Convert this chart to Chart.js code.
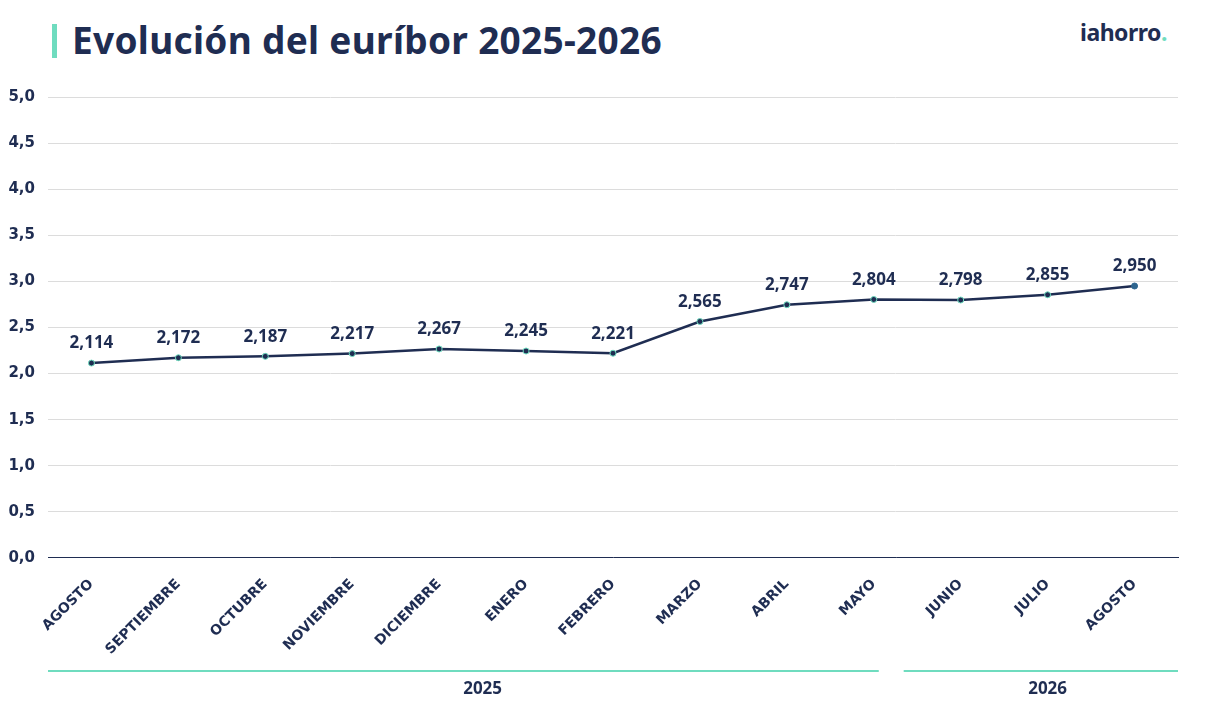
<!DOCTYPE html>
<html lang="es">
<head>
<meta charset="utf-8">
<script src="https://cdn.jsdelivr.net/npm/chart.js@4/dist/chart.umd.min.js"></script>
<style>
  html, body { margin: 0; padding: 0; background: #fff; }
  body { width: 1209px; height: 720px; position: relative; overflow: hidden; font-family: "Noto Sans", sans-serif; }
  #bar { position: absolute; left: 52px; top: 24px; width: 5px; height: 34px; background: #6fdcbf; }
  #title { position: absolute; left: 72px; top: 14px; margin: 0; font-size: 37px; font-weight: 700; color: #1f2d52; letter-spacing: 0.3px; }
  #logo { position: absolute; left: 1080px; top: 16px; font-size: 23px; font-weight: 700; color: #1f2d52; letter-spacing: -0.5px; }
  #logo span { color: #6fdcbf; }
  #wrap { position: absolute; left: 0; top: 0; width: 1209px; height: 720px; }
</style>
</head>
<body>
<div id="bar"></div>
<h1 id="title">Evolución del euríbor 2025-2026</h1>
<div id="logo">iahorro<span>.</span></div>
<div id="wrap"><canvas id="grafico"></canvas></div>
<script>
const meses = ['AGOSTO', 'SEPTIEMBRE', 'OCTUBRE', 'NOVIEMBRE', 'DICIEMBRE', 'ENERO', 'FEBRERO', 'MARZO', 'ABRIL', 'MAYO', 'JUNIO', 'JULIO', 'AGOSTO'];
const euribor = [2.114, 2.172, 2.187, 2.217, 2.267, 2.245, 2.221, 2.565, 2.747, 2.804, 2.798, 2.855, 2.950];
const anios = ['2025', '2026'];
const anioDesde = [0, 10];
const anioHasta = [9, 12];

const azul = '#1f2d52';
const verde = '#6fdcbf';
const fuente = '"Noto Sans", sans-serif';
const fuenteEjes = '"DejaVu Sans", sans-serif';

const coma = (v, d) => v.toFixed(d).replace('.', ',');

// etiquetas encima de cada punto
const etiquetas = {
  id: 'etiquetas',
  afterDatasetsDraw(chart) {
    const ctx = chart.ctx;
    const meta = chart.getDatasetMeta(0);
    ctx.save();
    ctx.font = 'bold 17px ' + fuente;
    ctx.fillStyle = azul;
    ctx.textAlign = 'center';
    ctx.textBaseline = 'bottom';
    meta.data.forEach((p, i) => {
      ctx.fillText(coma(euribor[i], 3), p.x, p.y - 11);
    });
    ctx.restore();
  }
};

// franjas de años debajo del eje
const franjas = {
  id: 'franjas',
  afterDraw(chart) {
    const ctx = chart.ctx;
    const x = chart.scales.x;
    const y0 = 671;
    ctx.save();
    ctx.strokeStyle = verde;
    ctx.lineWidth = 2;
    ctx.font = 'bold 17px ' + fuente;
    ctx.fillStyle = azul;
    ctx.textAlign = 'center';
    ctx.textBaseline = 'middle';
    anios.forEach((a, i) => {
      const ini = i === 0 ? x.left : x.getPixelForValue(anioDesde[i]) - 57;
      const fin = i === anios.length - 1 ? x.right : x.getPixelForValue(anioHasta[i]) + 5;
      ctx.beginPath();
      ctx.moveTo(ini, y0);
      ctx.lineTo(fin, y0);
      ctx.stroke();
      const centro = (x.getPixelForValue(anioDesde[i]) + x.getPixelForValue(anioHasta[i])) / 2;
      ctx.fillText(a, centro, 689);
    });
    ctx.restore();
  }
};

const colorPuntos = euribor.map((v, i) => i === euribor.length - 1 ? '#2f6690' : azul);
const bordePuntos = euribor.map((v, i) => i === euribor.length - 1 ? '#2f6690' : verde);

new Chart(document.getElementById('grafico'), {
  type: 'line',
  data: {
    labels: meses,
    datasets: [{
      label: 'Euríbor',
      data: euribor,
      borderColor: azul,
      borderWidth: 2.5,
      tension: 0,
      fill: false,
      pointRadius: 3,
      pointBorderWidth: 1,
      pointBackgroundColor: colorPuntos,
      pointBorderColor: bordePuntos
    }]
  },
  options: {
    responsive: true,
    maintainAspectRatio: false,
    animation: false,
    layout: { padding: { top: 97, left: 8, right: 31, bottom: 52 } },
    plugins: {
      legend: { display: false },
      tooltip: { enabled: false }
    },
    scales: {
      x: {
        offset: true,
        grid: { display: false },
        border: { display: true, color: azul, width: 1 },
        ticks: {
          color: azul,
          font: { family: fuenteEjes, weight: 'bold', size: 14 },
          maxRotation: 45,
          minRotation: 45,
          padding: 10
        }
      },
      y: {
        min: 0,
        max: 5,
        afterFit: (s) => { s.width = 40; },
        grid: { color: '#dcdcdc', lineWidth: 1, drawTicks: false },
        border: { display: false },
        ticks: {
          stepSize: 0.5,
          color: azul,
          padding: 13,
          font: { family: fuenteEjes, weight: 'bold', size: 15 },
          callback: (v) => coma(v, 1)
        }
      }
    }
  },
  plugins: [etiquetas, franjas]
});
</script>
</body>
</html>
